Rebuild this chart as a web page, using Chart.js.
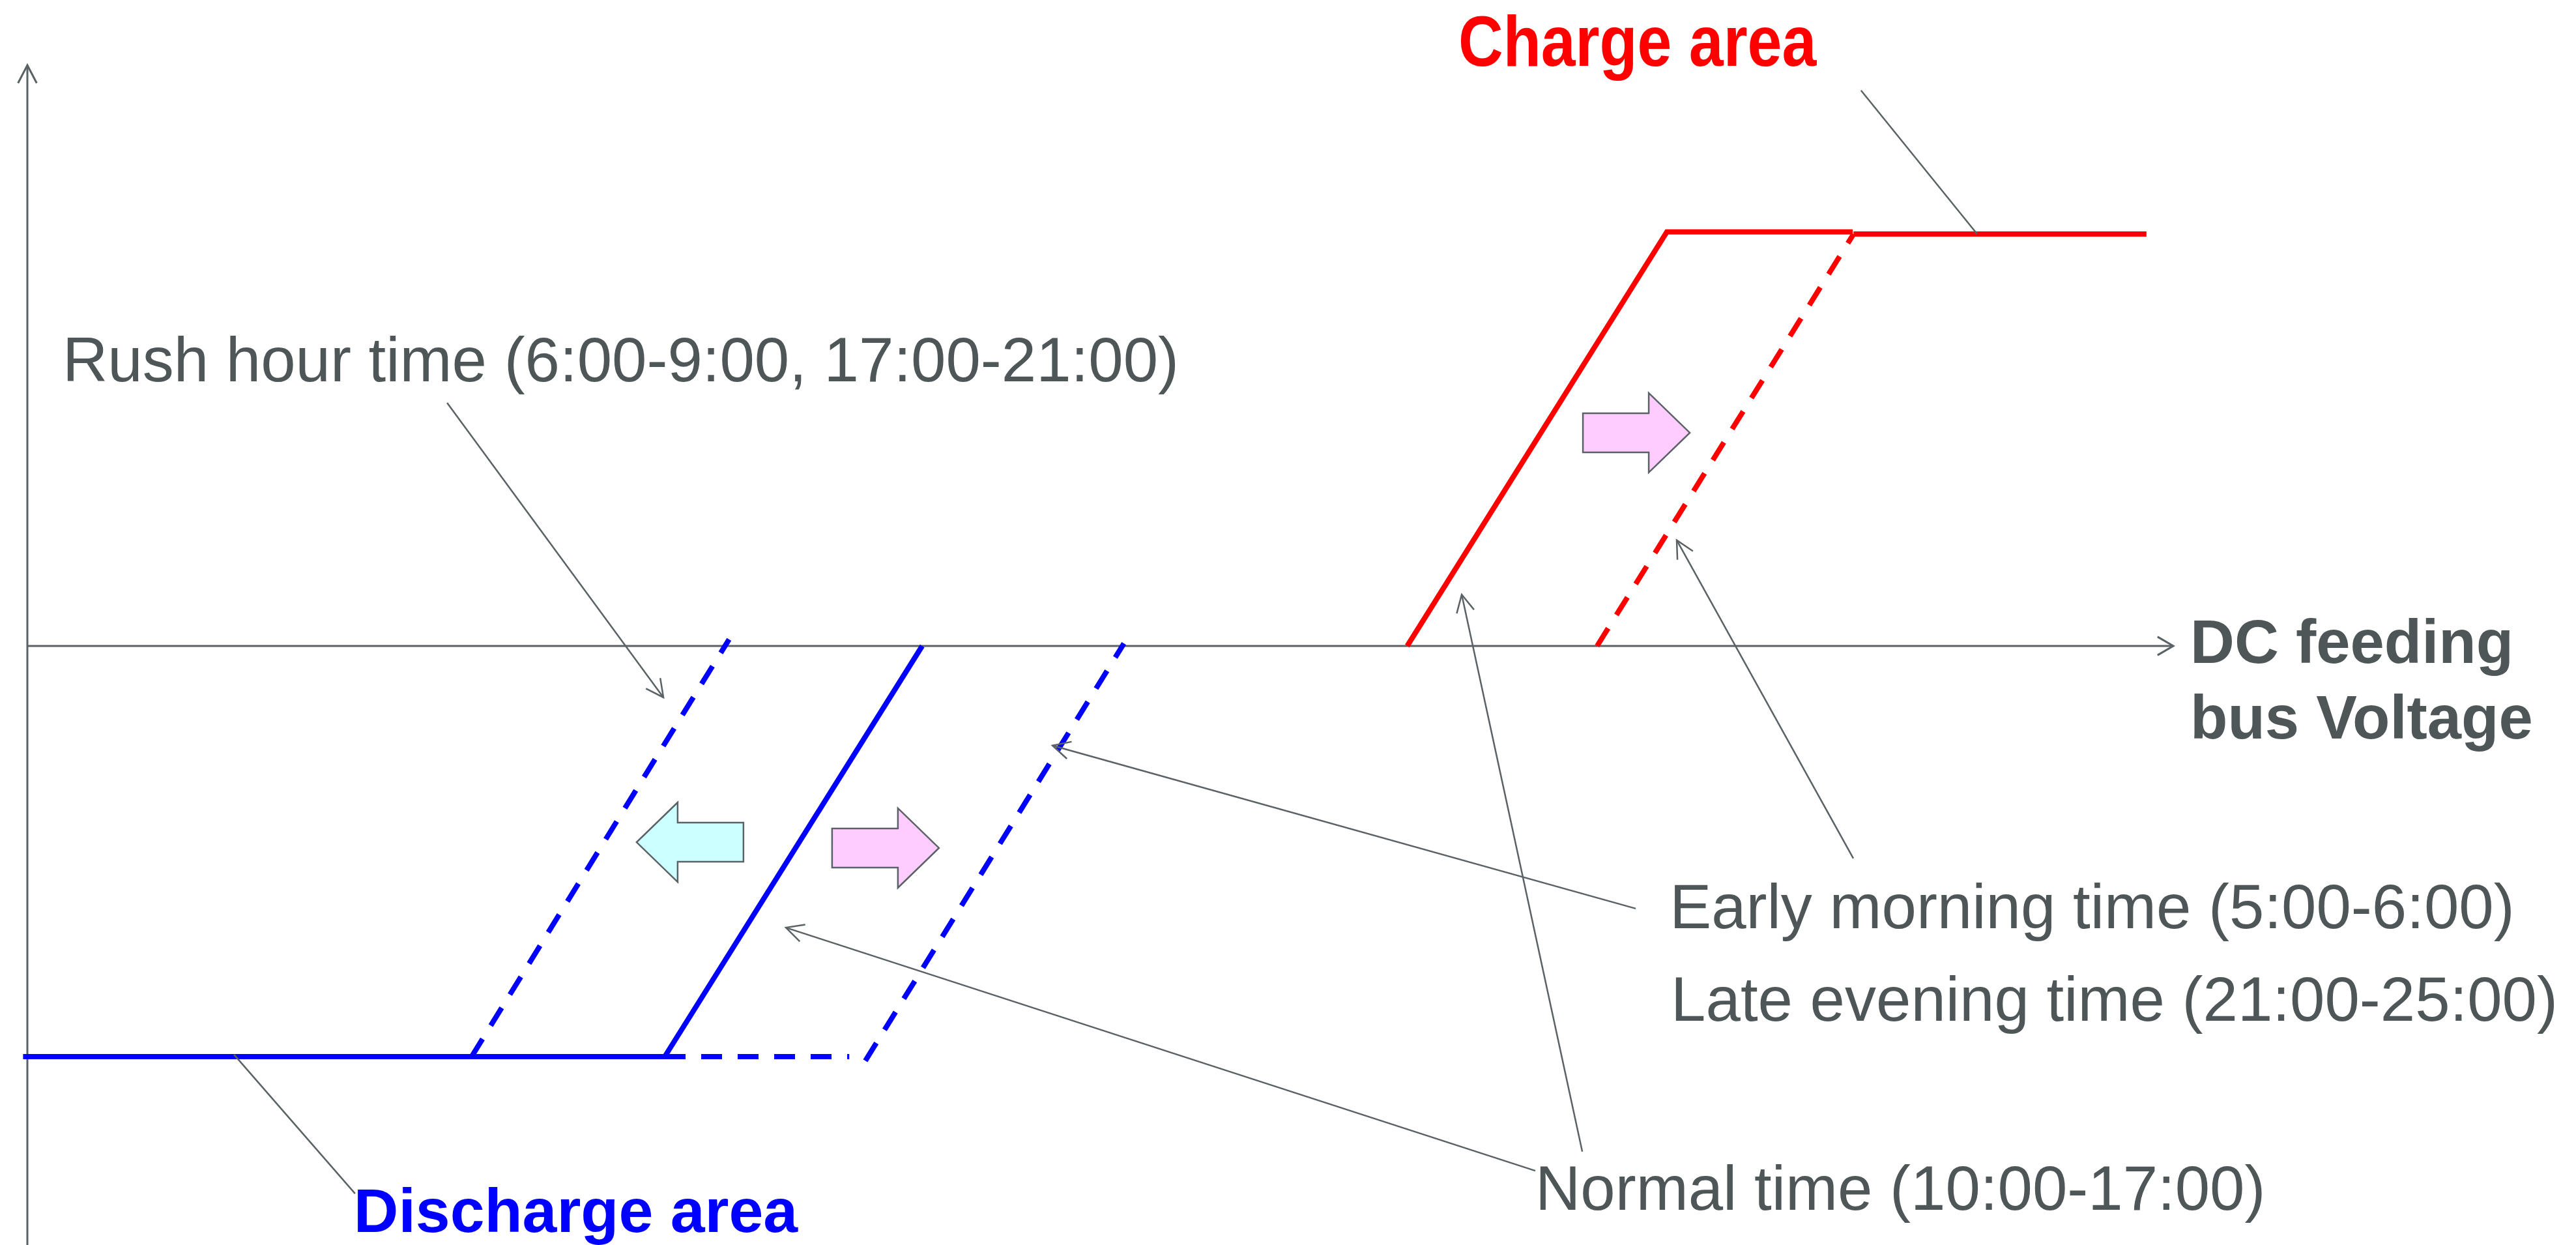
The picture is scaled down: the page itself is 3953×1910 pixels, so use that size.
<!DOCTYPE html>
<html>
<head>
<meta charset="utf-8">
<script src="https://cdn.jsdelivr.net/npm/chart.js@4.4.1/dist/chart.umd.min.js"></script>
<style>
  html, body { margin: 0; padding: 0; background: #ffffff; }
  canvas { display: block; }
</style>
</head>
<body>
<canvas id="busChart" width="3953" height="1910"></canvas>
<script>
// x: DC feeding bus voltage (0-100 along the axis), y: power (+1 charge, -1 discharge)
const normalDischargeV = [-0.2, 29.7, 41.7];
const normalDischargeP = [-0.99, -0.99, 0];

const rushDischargeV = [20.7, 32.7];
const rushDischargeP = [-0.99, 0.016];

const lateFlatV = [29.7, 38.3];
const lateFlatP = [-0.99, -0.99];
const lateDischargeV = [39.05, 51.1];
const lateDischargeP = [-1.0, 0.006];

const normalChargeV = [64.3, 76.4, 85.06];
const normalChargeP = [0, 0.998, 0.998];

const lateChargeV = [73.15, 85.1];
const lateChargeP = [0, 0.993];
const chargeFlatV = [85.1, 98.75];
const chargeFlatP = [0.993, 0.993];

const GRAY = '#4e5658';
const LINE_GRAY = '#5a6265';
const FONT = "'Liberation Sans', Arial, sans-serif";

function pts(xs, ys) {
  return xs.map((x, i) => ({ x: x, y: ys[i] }));
}

function series(xs, ys, color, dashed) {
  return {
    data: pts(xs, ys),
    borderColor: color,
    borderWidth: 8,
    borderDash: dashed ? [32, 24] : [],
    borderCapStyle: 'butt',
    borderJoinStyle: 'miter',
    pointRadius: 0,
    fill: false,
    tension: 0,
    clip: false
  };
}

// callouts: text anchors and leader ends are in data units
const shiftArrows = [
  { x: 30.88, y: -0.473, dir: -1, fill: '#ccffff' },
  { x: 39.99, y: -0.487, dir: 1, fill: '#ffccff' },
  { x: 74.98, y: 0.514, dir: 1, fill: '#ffccff' }
];

const leaders = [
  { from: [85.45, 1.339], to: [90.86, 0.993], head: false },
  { from: [9.63, -0.985], to: [15.27, -1.32], head: false },
  { from: [19.56, 0.586], to: [29.64, -0.124], head: true },
  { from: [74.95, -0.633], to: [47.77, -0.24], head: true },
  { from: [85.09, -0.512], to: [76.86, 0.255], head: true },
  { from: [72.46, -1.219], to: [66.84, 0.124], head: true },
  { from: [70.27, -1.265], to: [35.35, -0.679], head: true }
];

const labels = [
  { text: 'Rush hour time (6:00-9:00, 17:00-21:00)', x: 1.64, y: 0.638, color: GRAY, bold: false, size: 96 },
  { text: 'Early morning time (5:00-6:00)', x: 76.53, y: -0.68, color: GRAY, bold: false, size: 96 },
  { text: 'Late evening time (21:00-25:00)', x: 76.59, y: -0.903, color: GRAY, bold: false, size: 96 },
  { text: 'Normal time (10:00-17:00)', x: 70.27, y: -1.359, color: GRAY, bold: false, size: 96 },
  { text: 'DC feeding', x: 100.79, y: -0.041, color: GRAY, bold: true, size: 94 },
  { text: 'bus Voltage', x: 100.79, y: -0.223, color: GRAY, bold: true, size: 94 },
  { text: 'Charge area', x: 66.69, y: 1.398, color: '#ff0000', bold: true, size: 95, stretch: 1.15 },
  { text: 'Discharge area', x: 15.21, y: -1.413, color: '#0000ff', bold: true, size: 95 }
];

function toPx(chart, x, y) {
  return [chart.scales.x.getPixelForValue(x), chart.scales.y.getPixelForValue(y)];
}

function chevron(ctx, tx, ty, fx, fy, len, spread) {
  const a = Math.atan2(fy - ty, fx - tx);
  ctx.beginPath();
  ctx.moveTo(tx + len * Math.cos(a - spread), ty + len * Math.sin(a - spread));
  ctx.lineTo(tx, ty);
  ctx.lineTo(tx + len * Math.cos(a + spread), ty + len * Math.sin(a + spread));
  ctx.stroke();
}

const diagram = {
  id: 'diagram',
  beforeDatasetsDraw(chart) {
    const ctx = chart.ctx;
    const [ox, oy] = toPx(chart, 0, 0);
    const [, topY] = toPx(chart, 0, 1.4);
    const [endX] = toPx(chart, 100, 0);
    ctx.save();
    ctx.strokeStyle = LINE_GRAY;
    ctx.lineWidth = 3;
    ctx.beginPath();
    ctx.moveTo(ox, chart.height);
    ctx.lineTo(ox, topY);
    ctx.moveTo(ox, oy);
    ctx.lineTo(endX, oy);
    ctx.stroke();
    chevron(ctx, ox, topY, ox, topY + 100, 31, 0.48);
    chevron(ctx, endX, oy, endX - 100, oy, 28, 0.53);
    ctx.restore();
  },
  afterDatasetsDraw(chart) {
    const ctx = chart.ctx;
    ctx.save();

    // block arrows showing the shift of the characteristic
    const w = 164, h = 122, head = 63, shaft = 60;
    shiftArrows.forEach(a => {
      const [cx, cy] = toPx(chart, a.x, a.y);
      const d = a.dir;
      const tip = cx + d * w / 2, back = cx - d * w / 2, base = tip - d * head;
      ctx.beginPath();
      ctx.moveTo(back, cy - shaft / 2);
      ctx.lineTo(base, cy - shaft / 2);
      ctx.lineTo(base, cy - h / 2);
      ctx.lineTo(tip, cy);
      ctx.lineTo(base, cy + h / 2);
      ctx.lineTo(base, cy + shaft / 2);
      ctx.lineTo(back, cy + shaft / 2);
      ctx.closePath();
      ctx.fillStyle = a.fill;
      ctx.fill();
      ctx.strokeStyle = LINE_GRAY;
      ctx.lineWidth = 2.5;
      ctx.stroke();
    });

    // leader lines
    ctx.strokeStyle = LINE_GRAY;
    ctx.lineWidth = 2.5;
    leaders.forEach(l => {
      const [fx, fy] = toPx(chart, l.from[0], l.from[1]);
      const [tx, ty] = toPx(chart, l.to[0], l.to[1]);
      ctx.beginPath();
      ctx.moveTo(fx, fy);
      ctx.lineTo(tx, ty);
      ctx.stroke();
      if (l.head) chevron(ctx, tx, ty, fx, fy, 30, 0.47);
    });

    // text
    ctx.textBaseline = 'alphabetic';
    ctx.textAlign = 'left';
    labels.forEach(t => {
      const [x, y] = toPx(chart, t.x, t.y);
      ctx.font = (t.bold ? 'bold ' : '') + t.size + 'px ' + FONT;
      ctx.fillStyle = t.color;
      ctx.save();
      ctx.translate(x, y);
      ctx.scale(1, t.stretch || 1);
      ctx.fillText(t.text, 0, 0);
      ctx.restore();
    });
    ctx.restore();
  }
};

new Chart(document.getElementById('busChart'), {
  type: 'line',
  data: {
    datasets: [
      series(normalDischargeV, normalDischargeP, '#0000ff', false),
      series(rushDischargeV, rushDischargeP, '#0000ff', true),
      series(lateFlatV, lateFlatP, '#0000ff', true),
      series(lateDischargeV, lateDischargeP, '#0000ff', true),
      series(normalChargeV, normalChargeP, '#ff0000', false),
      series(lateChargeV, lateChargeP, '#ff0000', true),
      series(chargeFlatV, chargeFlatP, '#ff0000', false)
    ]
  },
  options: {
    responsive: false,
    devicePixelRatio: 1,
    animation: false,
    layout: { padding: { left: 42, right: 618, top: 100, bottom: 28 } },
    plugins: { legend: { display: false }, tooltip: { enabled: false } },
    scales: {
      x: { type: 'linear', min: 0, max: 100, display: false },
      y: { type: 'linear', min: -1.4, max: 1.4, display: false }
    }
  },
  plugins: [diagram]
});
</script>
</body>
</html>
